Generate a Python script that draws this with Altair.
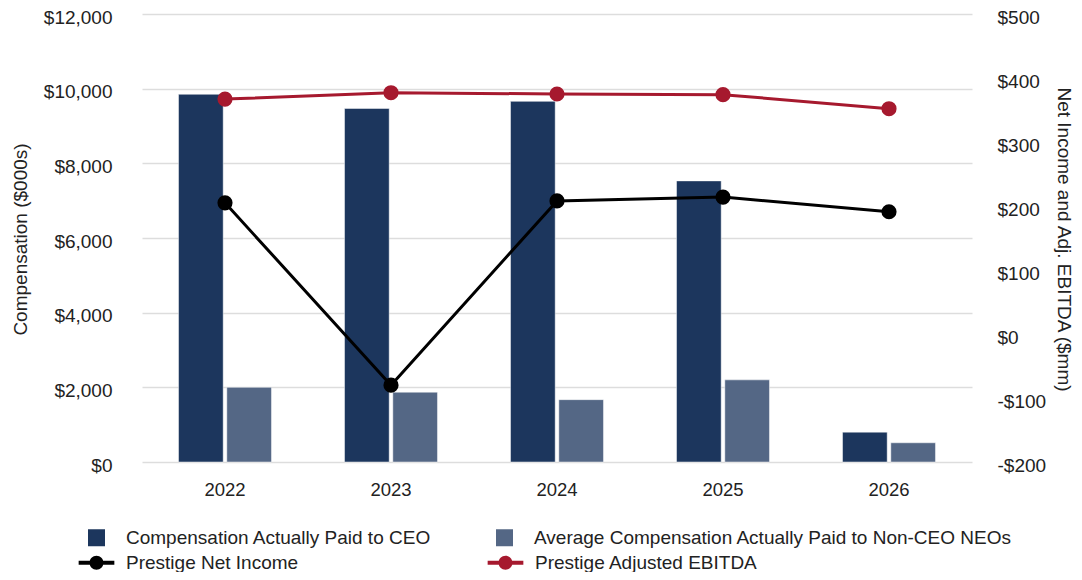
import altair as alt
import pandas as pd

years = ["2022", "2023", "2024", "2025", "2026"]
ceo_cap = [9850, 9470, 9660, 7530, 800]
neo_cap = [2000, 1870, 1670, 2200, 515]
net_income = [205, -80, 208, 214, 191]
adj_ebitda = [367, 377, 375, 374, 352]

bar_series = ["Compensation Actually Paid to CEO", "Average Compensation Actually Paid to Non-CEO NEOs"]
bar_colors = ["#1c365d", "#546785"]
line_series = ["Prestige Net Income", "Prestige Adjusted EBITDA"]
line_colors = ["#000000", "#a6192e"]

left_ticks = [0, 2000, 4000, 6000, 8000, 10000, 12000]
right_ticks = [-200, -100, 0, 100, 200, 300, 400, 500]

FONT = "Liberation Sans"

bar_rows = []
for i, y in enumerate(years):
    bar_rows.append({"year": y, "series": bar_series[0], "value": ceo_cap[i]})
    bar_rows.append({"year": y, "series": bar_series[1], "value": neo_cap[i]})
bar_df = pd.DataFrame(bar_rows)

line_rows = []
for i, y in enumerate(years):
    line_rows.append({"year": y, "series": line_series[0], "value": net_income[i], "hex": line_colors[0]})
    line_rows.append({"year": y, "series": line_series[1], "value": adj_ebitda[i], "hex": line_colors[1]})
line_df = pd.DataFrame(line_rows)

x_enc = alt.X(
    "year:N",
    sort=years,
    scale=alt.Scale(paddingInner=0.44, paddingOuter=0.22),
    axis=alt.Axis(title=None, labelAngle=0, ticks=False, domain=False, labelPadding=18,
                  labelFontSize=18.5, labelFont=FONT, labelColor="#222222", grid=False),
)

bars = alt.Chart(bar_df).mark_bar(stroke="#ffffff", strokeWidth=0.8, strokeOpacity=0.6).encode(
    x=x_enc,
    xOffset=alt.XOffset("series:N", sort=bar_series, scale=alt.Scale(paddingInner=0.075, paddingOuter=0)),
    y=alt.Y(
        "value:Q",
        scale=alt.Scale(domain=[0, 12000], nice=False),
        axis=alt.Axis(
            orient="left", values=left_ticks, title="Compensation ($000s)",
            labelExpr="'$' + format(datum.value, ',')",
            ticks=False, domain=False, labelPadding=30, labelOffset=3, grid=True,
            gridColor="#dddddd", gridWidth=1.6,
            labelFontSize=19, labelFont=FONT, labelColor="#222222",
            titleFontSize=19, titleFont=FONT, titleFontWeight="normal", titleColor="#222222",
            titleX=-122, titleY=225, titleAngle=270, titleBaseline="middle", titleAlign="center",
        ),
    ),
    color=alt.Color(
        "series:N",
        sort=bar_series,
        scale=alt.Scale(domain=bar_series, range=bar_colors),
        legend=alt.Legend(
            title=None, orient="none", legendX=-55, legendY=514, columns=2, columnPadding=63,
            symbolType="square", symbolSize=289, symbolStrokeWidth=0, labelOffset=20,
            labelFontSize=19, labelFont=FONT, labelColor="#222222", padding=0, labelLimit=600,
        ),
    ),
)

y_right = alt.Y(
    "value:Q",
    scale=alt.Scale(domain=[-200, 500], nice=False),
    axis=alt.Axis(
        orient="right", values=right_ticks, title="Net Income and Adj. EBITDA ($mm)",
        labelExpr="datum.value < 0 ? '-$' + format(-datum.value, ',') : '$' + format(datum.value, ',')",
        ticks=False, domain=False, labelPadding=25, labelOffset=3, grid=False,
        labelFontSize=19, labelFont=FONT, labelColor="#222222",
        titleFontSize=19, titleFont=FONT, titleFontWeight="normal", titleColor="#222222",
        titleX=91, titleY=225, titleAngle=90, titleBaseline="middle", titleAlign="center",
    ),
)

lines = alt.Chart(line_df).mark_line(strokeWidth=3).encode(
    x=alt.X("year:N", sort=years),
    y=y_right,
    stroke=alt.Stroke("hex:N", scale=None),
    detail="series:N",
)

legend_path = ("M-2.1,-0.24H2.1V0.24H-2.1Z "
               "M-0.82,0A0.82,0.82 0 1,1 0.82,0A0.82,0.82 0 1,1 -0.82,0Z")

points = alt.Chart(line_df).mark_point(filled=True, size=230, opacity=1).encode(
    x=alt.X("year:N", sort=years),
    y=alt.Y("value:Q"),
    color=alt.Color(
        "series:N",
        sort=line_series,
        scale=alt.Scale(domain=line_series, range=line_colors),
        legend=alt.Legend(
            title=None, orient="none", legendX=-55, legendY=539, columns=2, columnPadding=188,
            symbolType=legend_path, symbolSize=289, symbolStrokeWidth=0, labelOffset=20,
            labelFontSize=19, labelFont=FONT, labelColor="#222222", padding=0, labelLimit=600,
        ),
    ),
)

right_layer = alt.layer(lines, points)

chart = alt.layer(bars, right_layer).resolve_scale(
    y="independent", color="independent"
).properties(
    width=830, height=448,
    padding={"left": 134, "top": 6, "right": 102, "bottom": 110},
    autosize=alt.AutoSizeParams(type="none"),
).configure(
    background="white",
    view=alt.ViewConfig(strokeWidth=0, stroke="transparent"),
)

chart.save("out.html", embed_options={"renderer": "svg", "actions": False})
